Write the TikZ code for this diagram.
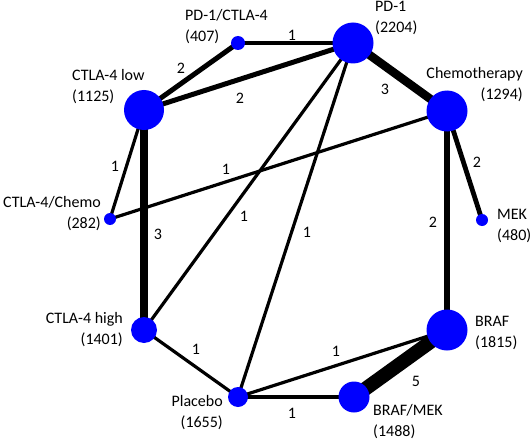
\documentclass[tikz,border=0pt]{standalone}
\usepackage{fontspec}
\setmainfont{Carlito}
\pgfdeclarelayer{bg}
\pgfsetlayers{bg,main}
\begin{document}
\begin{tikzpicture}[x=1pt,y=-1pt,
  trt/.style={circle,fill=blue,inner sep=0pt,minimum size=#1},
  txt/.style={inner sep=0pt,font=\fontsize{16}{21}\selectfont},
  num/.style={inner sep=0pt,font=\fontsize{16}{21}\selectfont},
  edge/.style={line width=#1, black}]
\useasboundingbox (0,0) rectangle (532,441);
% treatment circles
\node[trt=14pt] (pc) at (238,43) {};
\node[trt=41pt] (pd) at (353,43) {};
\node[trt=40pt] (cl) at (144,110) {};
\node[trt=41pt] (ch) at (447,111) {};
\node[trt=12pt] (me) at (482,220) {};
\node[trt=12pt] (cc) at (110,219) {};
\node[trt=26pt] (cg) at (144,330) {};
\node[trt=20pt] (pl) at (238,397) {};
\node[trt=41pt] (br) at (447,330) {};
\node[trt=31pt] (bm) at (354,397) {};
% edges
\begin{pgfonlayer}{bg}
\draw[edge=3.2pt] (pc.center) -- (pd.center);
\draw[edge=5pt] (pc.center) -- (cl.center);
\draw[edge=5pt] (cl.center) -- (pd.center);
\draw[edge=8.5pt] (pd.center) -- (ch.center);
\draw[edge=4.8pt] (ch.center) -- (me.center);
\draw[edge=5.3pt] (ch.center) -- (br.center);
\draw[edge=14pt] (br.center) -- (bm.center);
\draw[edge=3.2pt] (br.center) -- (pl.center);
\draw[edge=3.2pt] (pl.center) -- (bm.center);
\draw[edge=3.2pt] (cg.center) -- (pl.center);
\draw[edge=8.5pt] (cl.center) -- (cg.center);
\draw[edge=3.2pt] (cl.center) -- (cc.center);
\draw[edge=3.2pt] (cc.center) -- (ch.center);
\draw[edge=3.2pt] (pd.center) -- (cg.center);
\draw[edge=3.2pt] (pd.center) -- (pl.center);
\end{pgfonlayer}
% edge labels
\node[num] (n1) at (292,35) {1};
\node[num] (n2) at (181,68) {2};
\node[num] (n3) at (240,98) {2};
\node[num] (n4) at (385,89) {3};
\node[num] (n5) at (477,162) {2};
\node[num] (n6) at (433,222) {2};
\node[num] (n7) at (416,381) {5};
\node[num] (n8) at (336,351) {1};
\node[num] (n9) at (292,413) {1};
\node[num] (n10) at (196,349) {1};
\node[num] (n11) at (158,234) {3};
\node[num] (n12) at (115,166) {1};
\node[num] (n13) at (226,169) {1};
\node[num] (n14) at (244,216) {1};
\node[num] (n15) at (307,232) {1};
% treatment labels
\node[txt,align=left,anchor=west] (tpc) at (185,27) {PD-1/CTLA-4\\(407)};
\node[txt,align=left,anchor=west] (tpd) at (375,18) {PD-1\\(2204)};
\node[txt,align=left,anchor=west] (tcl) at (72,87) {CTLA-4 low\\(1125)};
\node[txt,align=right,anchor=east] (tch) at (523,85) {Chemotherapy\\(1294)};
\node[txt,align=left,anchor=west] (tme) at (497,226) {MEK\\(480)};
\node[txt,align=right,anchor=east] (tcc) at (101,214) {CTLA-4/Chemo\\(282)};
\node[txt,align=right,anchor=east] (tcg) at (123,330) {CTLA-4 high\\(1401)};
\node[txt,align=right,anchor=east] (tpl) at (223,413) {Placebo\\(1655)};
\node[txt,align=left,anchor=west] (tbr) at (475,333) {BRAF\\(1815)};
\node[txt,align=left,anchor=west] (tbm) at (373,422) {BRAF/MEK\\(1488)};
\end{tikzpicture}
\end{document}
